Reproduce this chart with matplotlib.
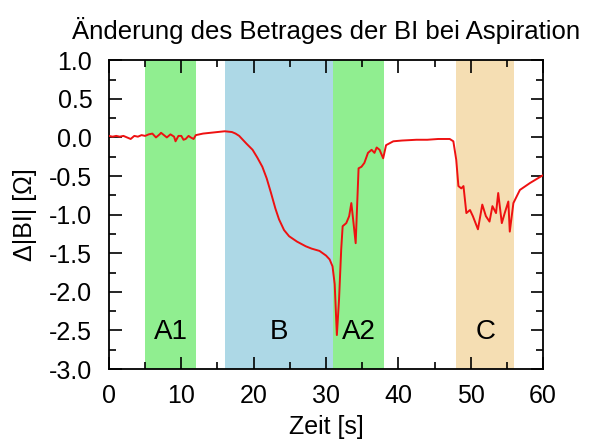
import matplotlib
matplotlib.use("Agg")
import matplotlib.pyplot as plt
from matplotlib.ticker import MultipleLocator

plt.rcParams['font.family'] = ['Liberation Sans', 'DejaVu Sans']

# measured curve (time in s, change of |BI| in Ohm)
t = [0, 0.5, 1, 1.5, 2, 2.5, 3, 3.5, 4, 4.5, 5, 5.5, 6, 6.5, 7, 7.2, 7.6, 8, 8.5, 9, 9.2,
     9.6, 10, 10.3, 10.6, 11, 11.3, 11.7, 12, 12.5, 13, 14, 15, 16, 17, 17.5, 18, 18.5,
     19, 19.85, 20.5, 21.2, 21.8, 22.4, 23, 23.5, 24.2, 24.9, 26, 27.2, 28, 29.1, 30,
     30.5, 30.9, 31.2, 31.5, 31.8, 32.1, 32.3, 32.8, 33.2, 33.5, 33.7, 34.1, 34.5, 34.9,
     35.3, 35.8, 36.3, 36.7, 37.0, 37.4, 37.9, 38.3, 39.3, 40.5, 42.5, 44, 45.5, 47.1,
     47.6, 48.0, 48.3, 48.7, 49.0, 49.4, 49.9, 50.3, 51.0, 51.6, 52.1, 52.6, 53.0, 53.5,
     53.8, 54.3, 54.7, 55.2, 55.4, 55.9, 56.8, 58.2, 59.8, 60]
dbi = [0.02, 0.01, 0.02, 0.01, 0.02, 0.0, -0.02, 0.02, 0.01, 0.03, 0.02, 0.04, 0.05, 0.0,
       0.04, 0.06, 0.03, 0.0, 0.04, 0.01, -0.05, 0.02, 0.02, -0.03, -0.02, 0.02, 0.0,
       -0.02, 0.03, 0.04, 0.05, 0.06, 0.07, 0.08, 0.07, 0.05, 0.02, -0.03, -0.08, -0.16,
       -0.26, -0.38, -0.53, -0.72, -0.92, -1.06, -1.2, -1.28, -1.35, -1.41, -1.44, -1.47,
       -1.53, -1.58, -1.67, -1.9, -2.56, -2.1, -1.45, -1.15, -1.11, -1.02, -0.85, -1.02,
       -1.37, -0.40, -0.38, -0.33, -0.20, -0.16, -0.20, -0.13, -0.16, -0.27, -0.10, -0.05,
       -0.04, -0.03, -0.03, -0.02, -0.02, -0.05, -0.29, -0.63, -0.66, -0.63, -0.98, -0.94,
       -1.02, -1.19, -0.87, -1.02, -1.09, -0.89, -0.98, -0.72, -1.11, -0.98, -0.83, -1.22,
       -0.85, -0.68, -0.59, -0.50, -0.49]

# shaded phases
phase_names = ['A1', 'B', 'A2', 'C']
phase_start = [5, 16, 31, 48]
phase_end = [12, 31, 38, 56]
phase_colors = ['#90ee90', '#add8e6', '#90ee90', '#f5deb3']

fig = plt.figure(figsize=(5.89, 4.43), dpi=100)
ax = fig.add_axes([0.185, 0.167, 0.737, 0.697])

for name, a, b, c in zip(phase_names, phase_start, phase_end, phase_colors):
    ax.axvspan(a, b, color=c, lw=0, zorder=0)
    ax.text((a + b) / 2, -2.52, name, ha='center', va='center', fontsize=20)

ax.plot(t, dbi, color='#ee1111', lw=1.4, zorder=3)

ax.set_xlim(0, 60)
ax.set_ylim(-3, 1)
ax.xaxis.set_major_locator(MultipleLocator(10))
ax.xaxis.set_minor_locator(MultipleLocator(5))
ax.yaxis.set_major_locator(MultipleLocator(0.5))
ax.yaxis.set_minor_locator(MultipleLocator(0.25))
ax.yaxis.set_major_formatter(plt.FormatStrFormatter('%.1f'))
ax.tick_params(which='both', direction='in', top=True, right=True, labelsize=18, width=1.2)
ax.tick_params(which='major', length=9)
ax.tick_params(which='minor', length=5)
ax.tick_params(axis='x', which='major', pad=11)
ax.tick_params(axis='y', which='major', pad=12)
for s in ax.spines.values():
    s.set_linewidth(1.3)

ax.set_xlabel('Zeit [s]', fontsize=18, labelpad=5)
ax.set_ylabel('Δ|BI| [Ω]', fontsize=18, labelpad=9)
ax.set_title('Änderung des Betrages der BI bei Aspiration', fontsize=18.5, pad=15)

fig.savefig('out.png', dpi=100)
